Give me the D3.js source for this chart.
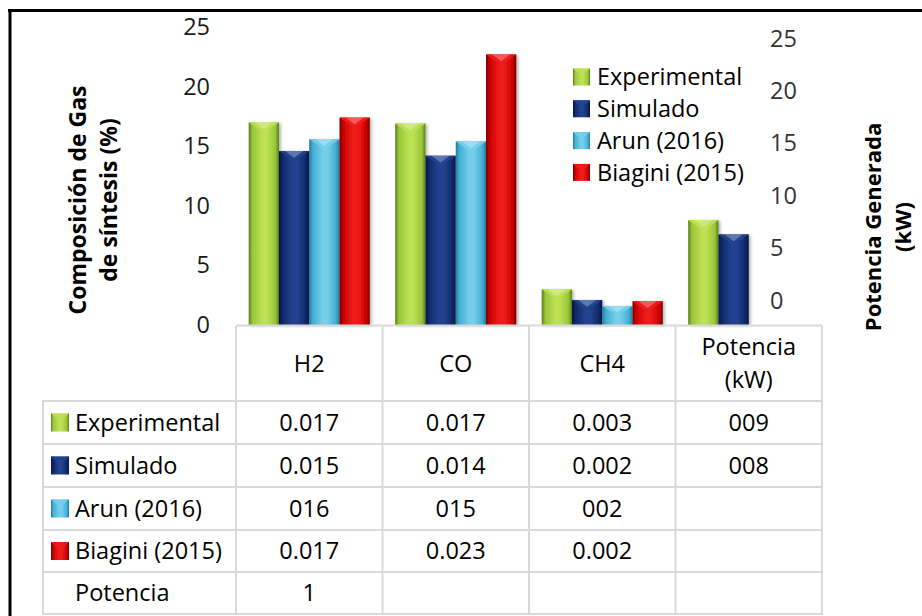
<!DOCTYPE html>
<html>
<head>
<meta charset="utf-8">
<script src="https://cdn.jsdelivr.net/npm/d3@7/dist/d3.min.js"></script>
<style>
  html, body { margin: 0; padding: 0; background: #fff; }
  svg { display: block; font-family: "Open Sans", "Noto Sans", sans-serif; }
</style>
</head>
<body>
<svg id="chart" width="922" height="616"></svg>
<script>
// Categories (gas components and generated power)
const categories = ["H2", "CO", "CH4", "Potencia (kW)"];
const categoryLines = [["H2"], ["CO"], ["CH4"], ["Potencia", "(kW)"]];

// Series
const seriesNames = ["Experimental", "Simulado", "Arun (2016)", "Biagini (2015)"];
const experimental = [17.0, 16.9, 3.0, 8.8];
const simulado     = [14.6, 14.2, 2.1, 7.6];
const arun         = [15.6, 15.4, 1.6, null];
const biagini      = [17.4, 22.7, 2.0, null];
const seriesValues = [experimental, simulado, arun, biagini];

// Extra row shown only in the data table
const potenciaRow = [1, null, null, null];

// Axis ticks
const leftTicks = [0, 5, 10, 15, 20, 25];
const rightTicks = [0, 5, 10, 15, 20, 25];

// Colours: [dark edge, base, light highlight]
const palette = [
  ["#5a7d18", "#98c63a", "#bde153"],
  ["#06143a", "#0f2a6c", "#22438f"],
  ["#1f7d9e", "#44aed4", "#74cfea"],
  ["#720000", "#cc0000", "#f01c1c"]
];

const svg = d3.select("#chart");
const defs = svg.append("defs");
svg.append("rect").attr("width", 922).attr("height", 616).attr("fill", "#fff");

// Bevelled look: horizontal gradient dark -> light -> dark
palette.forEach((c, i) => {
  const g = defs.append("linearGradient").attr("id", "bev" + i)
    .attr("x1", "0%").attr("x2", "100%").attr("y1", "0%").attr("y2", "0%");
  [[0, c[0]], [0.12, c[1]], [0.45, c[2]], [0.6, c[2]], [0.88, c[1]], [1, c[0]]]
    .forEach(([o, col]) => g.append("stop").attr("offset", o).attr("stop-color", col));
});
const shadow = defs.append("filter").attr("id", "shadow")
  .attr("x", "-30%").attr("y", "-10%").attr("width", "160%").attr("height", "120%");
shadow.append("feDropShadow").attr("dx", 2).attr("dy", 1).attr("stdDeviation", 1.8)
  .attr("flood-color", "#000").attr("flood-opacity", 0.28);

// Frame lines
svg.append("line").attr("x1", 8).attr("x2", 922).attr("y1", 10.5).attr("y2", 10.5)
  .attr("stroke", "#000").attr("stroke-width", 3);
svg.append("line").attr("x1", 10).attr("x2", 10).attr("y1", 9).attr("y2", 616)
  .attr("stroke", "#000").attr("stroke-width", 3);

// Scales
const plotLeft = 236, plotRight = 822;
const x = d3.scaleBand().domain(categories).range([plotLeft, plotRight]).padding(0);
const xs = d3.scaleBand().domain(seriesNames).range([0, x.bandwidth()])
  .paddingInner(0).paddingOuter(0.42);
const yL = d3.scaleLinear().domain([0, 25]).range([325, 27]);
const yR = d3.scaleLinear().domain([0, 25]).range([300.5, 38.5]);

const FS = 23.5;

// Left axis
const axL = svg.append("g").attr("transform", `translate(${plotLeft},0)`)
  .call(d3.axisLeft(yL).tickValues(leftTicks).tickSize(0).tickPadding(26));
axL.select(".domain").remove();
axL.selectAll("text").attr("font-size", FS).attr("fill", "#1a1a1a")
  .attr("font-family", "Open Sans");

// Right axis
const axR = svg.append("g").attr("transform", "translate(760,0)")
  .call(d3.axisRight(yR).tickValues(rightTicks).tickSize(0).tickPadding(10));
axR.select(".domain").remove();
axR.selectAll("text").attr("font-size", FS).attr("fill", "#333")
  .attr("font-family", "Open Sans");

// Axis titles
const titleL = svg.append("text").attr("transform", "translate(95,200) rotate(-90)")
  .attr("text-anchor", "middle").attr("font-weight", "bold").attr("font-size", 23)
  .attr("fill", "#000");
titleL.append("tspan").attr("x", 0).attr("dy", "-0.4em").text("Composición de Gas");
titleL.append("tspan").attr("x", 0).attr("dy", "1.35em").text("de síntesis (%)");

const titleR = svg.append("text").attr("transform", "translate(890,227) rotate(-90)")
  .attr("text-anchor", "middle").attr("font-weight", "bold").attr("font-size", 22)
  .attr("fill", "#000");
titleR.append("tspan").attr("x", 0).attr("dy", "-0.4em").text("Potencia Generada");
titleR.append("tspan").attr("x", 0).attr("dy", "1.35em").text("(kW)");

// Bars
const barData = [];
seriesValues.forEach((vals, si) => {
  vals.forEach((v, ci) => {
    if (v != null) barData.push({ s: seriesNames[si], si, c: categories[ci], v });
  });
});

const bars = svg.append("g").selectAll("g.bar").data(barData).join("g").attr("class", "bar");
bars.append("rect")
  .attr("x", d => x(d.c) + xs(d.s))
  .attr("y", d => yL(d.v))
  .attr("width", xs.bandwidth())
  .attr("height", d => yL(0) - yL(d.v))
  .attr("fill", d => `url(#bev${d.si})`)
  .attr("filter", "url(#shadow)");
// top chevron highlight
bars.append("path")
  .attr("d", d => {
    const x0 = x(d.c) + xs(d.s), w = xs.bandwidth(), y0 = yL(d.v);
    const h = Math.min(w * 0.35, (yL(0) - y0) * 0.5);
    return `M${x0},${y0}L${x0 + w},${y0}L${x0 + w / 2},${y0 + h}Z`;
  })
  .attr("fill", d => palette[d.si][2]).attr("opacity", 0.9);
bars.append("path")
  .attr("d", d => {
    const x0 = x(d.c) + xs(d.s), w = xs.bandwidth(), y0 = yL(d.v);
    const h = Math.min(w * 0.35, (yL(0) - y0) * 0.5);
    return `M${x0 + w * 0.2},${y0}L${x0 + w * 0.8},${y0}L${x0 + w / 2},${y0 + h * 0.65}Z`;
  })
  .attr("fill", "#fff").attr("opacity", 0.28);

// Category axis line
svg.append("line").attr("x1", plotLeft).attr("x2", plotRight).attr("y1", 325.5).attr("y2", 325.5)
  .attr("stroke", "#d9d9d9").attr("stroke-width", 2);

// Legend key swatch
function swatch(g, si, x0, y0, s) {
  g.append("rect").attr("x", x0).attr("y", y0).attr("width", s).attr("height", s)
    .attr("fill", `url(#bev${si})`);
  g.append("path").attr("d", `M${x0},${y0}L${x0 + s},${y0}L${x0 + s / 2},${y0 + s * 0.45}Z`)
    .attr("fill", palette[si][2]).attr("opacity", 0.85);
}

// Legend
const legend = svg.append("g");
seriesNames.forEach((name, i) => {
  const cy = 77 + i * 31.8;
  swatch(legend, i, 573, cy - 8.5, 17);
  legend.append("text").attr("x", 597).attr("y", cy).attr("dy", "0.35em")
    .attr("font-size", FS).attr("fill", "#000").text(name);
});

// Data table
const rowEdges = [326, 401, 444, 487, 530, 572, 614];
const tableLeft = 43;
const colEdges = categories.map(c => x(c)).concat([plotRight]);
const grid = svg.append("g").attr("stroke", "#d9d9d9").attr("stroke-width", 2);
colEdges.forEach(cx => grid.append("line").attr("x1", cx).attr("x2", cx)
  .attr("y1", rowEdges[0]).attr("y2", rowEdges[rowEdges.length - 1]));
grid.append("line").attr("x1", tableLeft).attr("x2", tableLeft)
  .attr("y1", rowEdges[1]).attr("y2", rowEdges[rowEdges.length - 1]);
rowEdges.slice(1).forEach(ry => grid.append("line").attr("x1", tableLeft - 1).attr("x2", plotRight + 1)
  .attr("y1", ry).attr("y2", ry));

const table = svg.append("g").attr("font-size", FS).attr("fill", "#000");
// header
categoryLines.forEach((lines, ci) => {
  const cx = x(categories[ci]) + x.bandwidth() / 2;
  const cy = (rowEdges[0] + rowEdges[1]) / 2;
  lines.forEach((ln, li) => {
    table.append("text").attr("x", cx)
      .attr("y", cy + (li - (lines.length - 1) / 2) * 33)
      .attr("dy", "0.35em").attr("text-anchor", "middle").text(ln);
  });
});

// cell number formats: thousandths ("0.017") or whole padded ("016")
const pad3 = d3.format("03d");
const fmtThousandths = v => "0." + pad3(Math.round(v));
const fmtWhole = v => pad3(Math.round(v));
const rowFormats = [fmtThousandths, fmtThousandths, fmtWhole, fmtThousandths];
const columnFormats = [null, null, null, fmtWhole];

const rows = seriesNames.map((n, i) => ({ name: n, si: i, vals: seriesValues[i] }))
  .concat([{ name: "Potencia", si: null, vals: potenciaRow }]);
rows.forEach((r, ri) => {
  const cy = (rowEdges[ri + 1] + rowEdges[ri + 2]) / 2;
  if (r.si != null) swatch(table, r.si, 51, cy - 9, 18);
  table.append("text").attr("x", 75).attr("y", cy).attr("dy", "0.35em").text(r.name);
  r.vals.forEach((v, ci) => {
    if (v == null) return;
    let label;
    if (r.si == null) label = String(v);
    else label = (columnFormats[ci] || rowFormats[r.si])(v);
    table.append("text").attr("x", x(categories[ci]) + x.bandwidth() / 2).attr("y", cy)
      .attr("dy", "0.35em").attr("text-anchor", "middle").text(label);
  });
});
</script>
</body>
</html>
